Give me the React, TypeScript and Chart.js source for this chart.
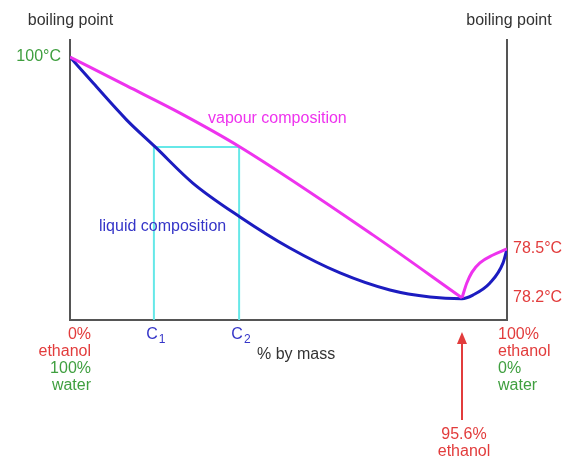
import React, { useEffect, useRef } from "react";
import { Chart, registerables } from "chart.js";

Chart.register(...registerables);

// Schematic composition axis (% ethanol, drawn position) and schematic height axis
// Vapour curve, water-rich branch (left of the azeotrope)
const vapourLeftX = [0, 13.0, 25.2, 38.9, 69.3, 89.7];
const vapourLeftY = [93.9, 83.6, 73.9, 61.8, 30.4, 7.9];
// Vapour curve, ethanol-rich branch (right of the azeotrope)
const vapourRightX = [89.7, 90.8, 92.0, 93.8, 96.8, 100];
const vapourRightY = [7.9, 13.2, 17.1, 20.4, 23.2, 25.4];

const liquidX = [0, 5.3, 13.0, 19.5, 28.1, 38.9, 50.3, 61.8, 73.2, 82.4, 89.7, 92.2, 96.1, 99.1, 100];
const liquidY = [93.9, 84.6, 71.4, 61.8, 48.9, 36.8, 25.7, 16.8, 10.7, 8.2, 7.6, 8.9, 13.2, 20.4, 25.4];

const c1 = 19.2;
const c2 = 38.7;
const tieLineY = 61.8;
const azeotropeX = 89.7;

const leftTickValues = [93.9];
const leftTickLabels = ["100°C"];
const rightTickValues = [25.4, 7.9];
const rightTickLabels = ["78.5°C", "78.2°C"];

const FONT = '"Liberation Sans", Arial, Helvetica, sans-serif';
const RED = "#e23c3c";
const GREEN = "#3f9f3f";
const BLUE_TEXT = "#3535c8";
const MAGENTA = "#ee33ee";
const BLUE_LINE = "#1c1cc0";
const CYAN = "#66e8e8";
const GREY = "#555555";

const toPts = (xs: number[], ys: number[]) => xs.map((x, i) => ({ x, y: ys[i] }));

const textPlugin = {
  id: "annotText",
  afterDraw(chart: any) {
    const ctx = chart.ctx as CanvasRenderingContext2D;
    const area = chart.chartArea;
    const xs = chart.scales.x;
    ctx.save();
    ctx.textBaseline = "middle";
    ctx.font = `16px ${FONT}`;

    // axis titles
    ctx.fillStyle = "#333";
    ctx.textAlign = "center";
    ctx.fillText("boiling point", area.left + 0.5, 21);
    ctx.fillText("boiling point", area.right + 2, 21);

    // curve labels
    ctx.textAlign = "left";
    ctx.fillStyle = MAGENTA;
    ctx.fillText("vapour composition", 208, 119);
    ctx.fillStyle = BLUE_TEXT;
    ctx.fillText("liquid composition", 99, 227);

    // C1, C2
    const drawC = (val: number, sub: string) => {
      const px = xs.getPixelForValue(val);
      ctx.font = `16px ${FONT}`;
      const w = ctx.measureText("C").width;
      ctx.fillStyle = BLUE_TEXT;
      ctx.textAlign = "left";
      ctx.fillText("C", px - w / 2 - 2, 335);
      ctx.font = `12px ${FONT}`;
      ctx.fillText(sub, px + w / 2 - 1, 340);
    };
    drawC(c1, "1");
    drawC(c2, "2");

    ctx.font = `16px ${FONT}`;
    ctx.fillStyle = "#333";
    ctx.textAlign = "left";
    ctx.fillText("% by mass", 257, 355);

    // bottom-left block
    ctx.textAlign = "right";
    const lx = area.left + 21;
    ctx.fillStyle = RED;
    ctx.fillText("0%", lx, 335);
    ctx.fillText("ethanol", lx, 352);
    ctx.fillStyle = GREEN;
    ctx.fillText("100%", lx, 369);
    ctx.fillText("water", lx, 386);

    // bottom-right block
    ctx.textAlign = "left";
    const rx = area.right - 9;
    ctx.fillStyle = RED;
    ctx.fillText("100%", rx, 335);
    ctx.fillText("ethanol", rx, 352);
    ctx.fillStyle = GREEN;
    ctx.fillText("0%", rx, 369);
    ctx.fillText("water", rx, 386);

    // azeotrope arrow
    const ax = xs.getPixelForValue(azeotropeX);
    ctx.strokeStyle = RED;
    ctx.fillStyle = RED;
    ctx.lineWidth = 2;
    ctx.beginPath();
    ctx.moveTo(ax, 420);
    ctx.lineTo(ax, 340);
    ctx.stroke();
    ctx.beginPath();
    ctx.moveTo(ax, 332);
    ctx.lineTo(ax - 5, 344);
    ctx.lineTo(ax + 5, 344);
    ctx.closePath();
    ctx.fill();
    ctx.textAlign = "center";
    ctx.fillText("95.6%", ax + 2, 435);
    ctx.fillText("ethanol", ax + 2, 452);

    ctx.restore();
  },
};

const lineDs = (label: string, data: any[], color: string, width: number, smooth: boolean) => ({
  label,
  data,
  showLine: true,
  borderColor: color,
  borderWidth: width,
  pointRadius: 0,
  tension: smooth ? 0.4 : 0,
  cubicInterpolationMode: smooth ? ("monotone" as const) : ("default" as const),
  yAxisID: "y",
});

export default function App() {
  const ref = useRef<HTMLCanvasElement | null>(null);
  useEffect(() => {
    if (!ref.current) return;
    const chart = new Chart(ref.current, {
      type: "scatter",
      data: {
        datasets: [
          lineDs("vapour composition", toPts(vapourLeftX, vapourLeftY), MAGENTA, 3, true),
          lineDs("vapour composition (ethanol side)", toPts(vapourRightX, vapourRightY), MAGENTA, 3, true),
          lineDs("liquid composition", toPts(liquidX, liquidY), BLUE_LINE, 3, true),
          lineDs(
            "tie line",
            [
              { x: c1, y: 0 },
              { x: c1, y: tieLineY },
              { x: c2, y: tieLineY },
              { x: c2, y: 0 },
            ],
            CYAN,
            2,
            false
          ),
        ] as any,
      },
      options: {
        animation: false,
        responsive: false,
        layout: { padding: { left: 0, right: 0, top: 40, bottom: 0 } },
        plugins: { legend: { display: false }, tooltip: { enabled: false } },
        scales: {
          x: {
            type: "linear",
            min: 0,
            max: 100,
            grid: { display: false, drawTicks: false },
            border: { display: true, color: GREY, width: 2 },
            ticks: { display: false },
            afterFit: (s: any) => {
              s.height = 141;
            },
          },
          y: {
            type: "linear",
            position: "left",
            min: 0,
            max: 100,
            grid: { display: false, drawTicks: false },
            border: { display: true, color: GREY, width: 2 },
            afterBuildTicks: (s: any) => {
              s.ticks = leftTickValues.map((v) => ({ value: v }));
            },
            ticks: {
              padding: 9,
              color: GREEN,
              font: { family: FONT, size: 16 },
              callback: (v: any) => {
                const i = leftTickValues.indexOf(Number(v));
                return i >= 0 ? leftTickLabels[i] : "";
              },
            },
            afterFit: (s: any) => {
              s.width = 70;
            },
          },
          y2: {
            type: "linear",
            position: "right",
            min: 0,
            max: 100,
            grid: { display: false, drawTicks: false },
            border: { display: true, color: GREY, width: 2 },
            afterBuildTicks: (s: any) => {
              s.ticks = rightTickValues.map((v) => ({ value: v }));
            },
            ticks: {
              padding: 6,
              color: RED,
              font: { family: FONT, size: 16 },
              callback: (v: any) => {
                const i = rightTickValues.indexOf(Number(v));
                return i >= 0 ? rightTickLabels[i] : "";
              },
            },
            afterFit: (s: any) => {
              s.width = 60;
            },
          },
        },
      },
      plugins: [textPlugin],
    });
    return () => chart.destroy();
  }, []);
  return (
    <div style={{ position: "absolute", left: 0, top: 0, width: 567, height: 461, background: "#fff" }}>
      <canvas ref={ref} width={567} height={461} style={{ width: 567, height: 461 }} />
    </div>
  );
}
